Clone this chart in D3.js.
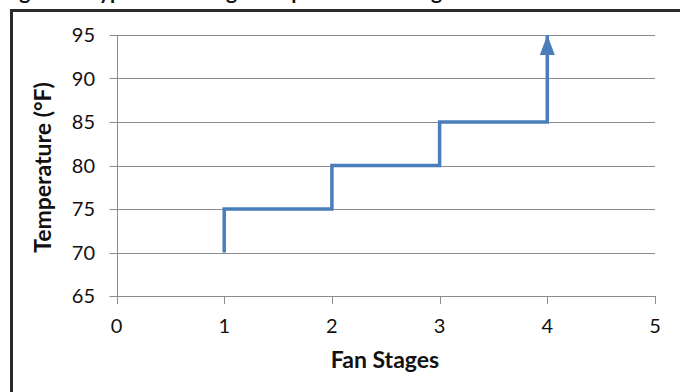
<!DOCTYPE html>
<html>
<head>
<meta charset="utf-8">
<script src="https://cdn.jsdelivr.net/npm/d3@7/dist/d3.min.js"></script>
<style>
  html, body { margin: 0; padding: 0; background: #fff; }
  svg { display: block; }
  text { font-family: Lato, "Open Sans", "DejaVu Sans", sans-serif; fill: #111; }
</style>
</head>
<body>
<svg id="chart" width="680" height="392"></svg>
<script>
// Fan stage thresholds: each stage switches on at the listed temperature
const stages = [1, 1, 2, 3, 4];
const temps = [70, 75, 80, 85, 95];
const xTicks = [0, 1, 2, 3, 4, 5];
const yTicks = [65, 70, 75, 80, 85, 90, 95];
const titleText = "Figure 2: Typical Fan Stage Temperature Settings";
const xLabel = "Fan Stages";
const yLabel = "Temperature (°F)";

const svg = d3.select("#chart");
const gridColor = "#8c8c8c";
const lineColor = "#4a7ebb";

const x = d3.scaleLinear().domain([0, 5]).range([116.5, 655]);
const y = d3.scaleLinear().domain([65, 95]).range([296, 35]);

// caption above the frame (only its descenders fall inside the page)
svg.append("text")
  .attr("x", 2).attr("y", -1)
  .attr("font-size", 21).attr("font-weight", "bold")
  .text(titleText);

// outer frame
svg.append("rect")
  .attr("x", 11.5).attr("y", 10.5)
  .attr("width", 800).attr("height", 500)
  .attr("fill", "none").attr("stroke", "#2b2b2b").attr("stroke-width", 3);

// horizontal gridlines with their tick stubs
svg.append("g").selectAll("line").data(yTicks).join("line")
  .attr("x1", x(0) - 7).attr("x2", x(5))
  .attr("y1", d => Math.round(y(d)) + 0.5).attr("y2", d => Math.round(y(d)) + 0.5)
  .attr("stroke", gridColor).attr("stroke-width", 1);

// vertical axis line
svg.append("line")
  .attr("x1", Math.round(x(0)) + 0.5).attr("x2", Math.round(x(0)) + 0.5)
  .attr("y1", y(95)).attr("y2", y(65) + 8)
  .attr("stroke", gridColor);

// x tick marks
svg.append("g").selectAll("line").data(xTicks).join("line")
  .attr("x1", d => Math.round(x(d)) + 0.5).attr("x2", d => Math.round(x(d)) + 0.5)
  .attr("y1", y(65)).attr("y2", y(65) + 8)
  .attr("stroke", gridColor);

// y tick labels
svg.append("g").selectAll("text").data(yTicks).join("text")
  .attr("x", 95).attr("y", d => y(d))
  .attr("dy", "0.36em")
  .attr("text-anchor", "end")
  .attr("font-size", 20)
  .text(d => d);

// x tick labels
svg.append("g").selectAll("text").data(xTicks).join("text")
  .attr("x", d => x(d)).attr("y", 326)
  .attr("dy", "0.36em")
  .attr("text-anchor", "middle")
  .attr("font-size", 20)
  .text(d => d);

// axis titles
svg.append("text")
  .attr("x", 385).attr("y", 368)
  .attr("text-anchor", "middle")
  .attr("font-size", 23).attr("font-weight", "bold")
  .text(xLabel);

svg.append("text")
  .attr("transform", "translate(51,167.5) rotate(-90)")
  .attr("text-anchor", "middle")
  .attr("font-size", 23).attr("font-weight", "bold")
  .text(yLabel);

// arrowhead for the open-ended top stage
svg.append("defs").append("marker")
  .attr("id", "arrow")
  .attr("markerUnits", "userSpaceOnUse")
  .attr("markerWidth", 20).attr("markerHeight", 16)
  .attr("viewBox", "0 0 20 16")
  .attr("refX", 20).attr("refY", 8)
  .attr("orient", "auto")
  .append("path")
  .attr("d", "M0,0.5 L20,8 L0,15.5 Z")
  .attr("fill", lineColor);

const points = stages.map((s, i) => [s, temps[i]]);
const line = d3.line()
  .x(d => x(d[0]))
  .y(d => y(d[1]))
  .curve(d3.curveStepAfter);

svg.append("path")
  .datum(points)
  .attr("d", line)
  .attr("fill", "none")
  .attr("stroke", lineColor)
  .attr("stroke-width", 3.5)
  .attr("stroke-linejoin", "miter")
  .attr("marker-end", "url(#arrow)");
</script>
</body>
</html>
